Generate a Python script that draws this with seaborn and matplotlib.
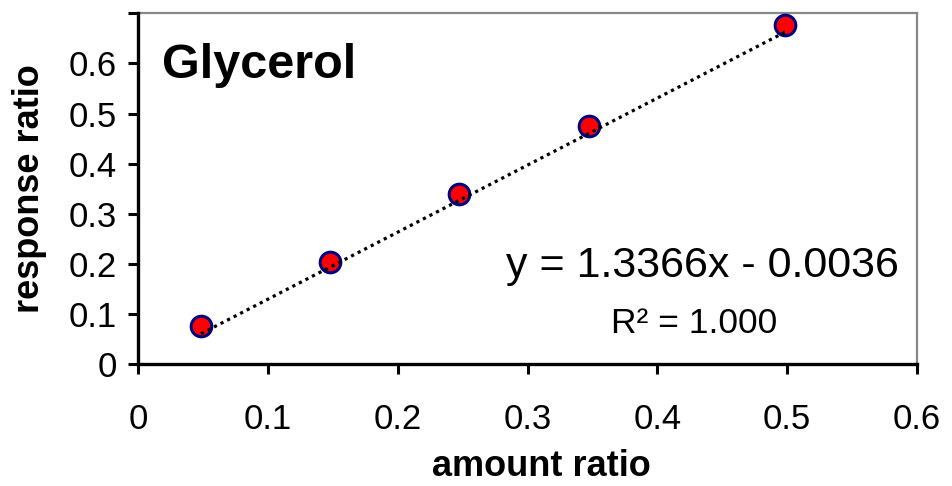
import matplotlib
matplotlib.use("Agg")
import matplotlib.pyplot as plt
import seaborn as sns
import numpy as np
import pandas as pd

# data
amount_ratio = [0.0483, 0.1477, 0.2473, 0.3473, 0.4983]
response_ratio = [0.077, 0.2048, 0.340, 0.4756, 0.6772]
slope = 1.3366
intercept = -0.0036
r_squared = "1.000"
x_ticks = [0, 0.1, 0.2, 0.3, 0.4, 0.5, 0.6]
x_tick_labels = ["0", "0.1", "0.2", "0.3", "0.4", "0.5", "0.6"]
y_ticks = [0, 0.1, 0.2, 0.3, 0.4, 0.5, 0.6, 0.7]
y_tick_labels = ["0", "0.1", "0.2", "0.3", "0.4", "0.5", "0.6", ""]

sns.set_style("white")
plt.rcParams['font.family'] = ['Liberation Sans', 'DejaVu Sans']
plt.rcParams['text.color'] = 'black'
plt.rcParams['axes.labelcolor'] = 'black'
plt.rcParams['xtick.color'] = 'black'
plt.rcParams['ytick.color'] = 'black'

df = pd.DataFrame({"amount": amount_ratio, "response": response_ratio})
trend_x = np.array([amount_ratio[0], amount_ratio[-1]])
trend = pd.DataFrame({"amount": trend_x, "response": slope * trend_x + intercept})

fig = plt.figure(figsize=(9.52, 4.86), dpi=100)
ax = fig.add_axes([0.1453, 0.2504, 0.8179, 0.7222])

sns.scatterplot(data=df, x="amount", y="response", ax=ax, s=220,
                color="#ff0000", edgecolor="#000080", linewidth=2.2, zorder=3)
sns.lineplot(data=trend, x="amount", y="response", ax=ax, color="black",
             linewidth=2.3, linestyle=(0, (1, 1.3)), zorder=4)

ax.set_xlim(0, 0.6)
ax.set_ylim(0, 0.7)
ax.set_xticks(x_ticks)
ax.set_xticklabels(x_tick_labels)
ax.set_yticks(y_ticks)
ax.set_yticklabels(y_tick_labels)
ax.tick_params(axis='both', direction='out', length=7.2, width=2.2, labelsize=25,
               colors='black', bottom=True, left=True, top=False, right=False)
ax.tick_params(axis='x', pad=21)
ax.tick_params(axis='y', pad=8)

for side in ['left', 'bottom']:
    ax.spines[side].set_color('black')
    ax.spines[side].set_linewidth(2.4)
for side in ['top', 'right']:
    ax.spines[side].set_color('#888888')
    ax.spines[side].set_linewidth(1.6)
ax.spines['left'].set_zorder(5)
ax.spines['bottom'].set_zorder(5)

ax.set_xlabel("amount ratio", fontsize=26, fontweight='bold')
ax.set_ylabel("response ratio", fontsize=26, fontweight='bold')
ax.xaxis.label.set_va('baseline')
ax.xaxis.set_label_coords(0.518, -0.319)
ax.yaxis.label.set_va('center')
ax.yaxis.set_label_coords(-0.140, 0.5)

ax.text(0.031, 0.815, "Glycerol", transform=ax.transAxes, fontsize=35,
        fontweight='bold', ha='left', va='baseline')
ax.text(0.725, 0.248, "y = 1.3366x - 0.0036", transform=ax.transAxes,
        fontsize=31, ha='center', va='baseline')
ax.text(0.714, 0.088, "R\u00b2 = " + r_squared, transform=ax.transAxes,
        fontsize=25.5, ha='center', va='baseline')

fig.savefig("out.png", dpi=100)
